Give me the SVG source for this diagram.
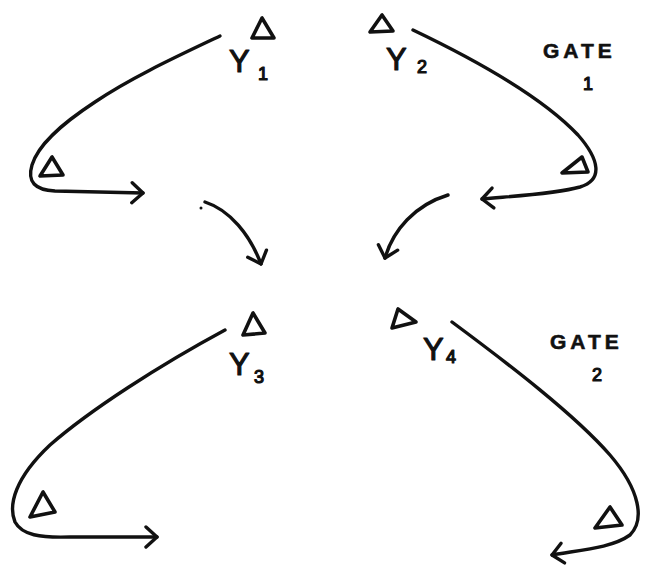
<svg xmlns="http://www.w3.org/2000/svg" width="647" height="572" viewBox="0 0 647 572">
<defs>
<style>
.ln{fill:none;stroke:#111;stroke-width:3.4;stroke-linecap:round;stroke-linejoin:round}
.tri{fill:none;stroke:#111;stroke-width:3.6;stroke-linejoin:round}
.t{font-family:"Liberation Sans",Arial,sans-serif;fill:#111;stroke:#111;stroke-width:1.2;stroke-linejoin:round}
.big{font-size:31px}
.sub{font-size:18px}
.gate{font-size:21px;font-weight:bold;letter-spacing:4px;stroke-width:0.6}
</style>
<marker id="ah" markerUnits="userSpaceOnUse" markerWidth="16" markerHeight="28" viewBox="-14 -14 16 28" refX="0" refY="0" orient="auto">
<path d="M-11,-10 L0,0 L-11,10" fill="none" stroke="#111" stroke-width="3.4" stroke-linecap="round" stroke-linejoin="round"/>
</marker>
</defs>
<rect width="647" height="572" fill="#fff"/>
<g id="y1">
<path class="tri" d="M262,18 L252,38 L274,38 Z"/>
<text class="t big" x="229" y="72">Y</text>
<text class="t sub" x="258" y="80">1</text>
</g>
<g id="y2">
<path class="tri" d="M382,15 L370,32 L393,31 Z"/>
<text class="t big" x="386" y="70">Y</text>
<text class="t sub" x="417" y="73">2</text>
</g>
<g id="gate1">
<text class="t gate" x="543" y="58">GATE</text>
<text class="t sub" x="583" y="90">1</text>
</g>
<g id="t1">
<path class="tri" d="M52,157 L40,176 L63,175 Z"/>
</g>
<g id="t2">
<path class="tri" d="M582,157 L562,173 L588,172 Z"/>
</g>
<g id="y3">
<path class="tri" d="M253,313 L243,335 L265,333 Z"/>
<text class="t big" x="229" y="375">Y</text>
<text class="t sub" x="254" y="383">3</text>
</g>
<g id="y4">
<path class="tri" d="M398,309 L392,328 L416,322 Z"/>
<text class="t big" x="423" y="360">Y</text>
<text class="t sub" x="446" y="363">4</text>
</g>
<g id="gate2">
<text class="t gate" x="550" y="349">GATE</text>
<text class="t sub" x="592" y="381">2</text>
</g>
<g id="t3">
<path class="tri" d="M43,492 L30,517 L55,512 Z"/>
</g>
<g id="t4">
<path class="tri" d="M610,507 L595,528 L622,525 Z"/>
</g>
<g id="connectors">
<path class="ln" marker-end="url(#ah)" d="M220,36 C180,55 130,78 95,102 C60,125 38,145 32,165 C27,182 35,190 55,191 L143,193"/>
<path class="ln" marker-end="url(#ah)" d="M413,30 C480,62 545,100 578,135 C600,160 603,180 580,187 C555,194 515,196 482,199"/>
<path class="ln" marker-end="url(#ah)" d="M205,202 C230,210 250,235 261,264"/>
<circle cx="201" cy="208" r="1.5" fill="#111"/>
<path class="ln" marker-end="url(#ah)" d="M448,195 C415,205 393,230 385,258"/>
<path class="ln" marker-end="url(#ah)" d="M225,330 C160,365 90,410 50,445 C15,478 8,505 15,522 C22,535 40,538 70,537 L157,537"/>
<path class="ln" marker-end="url(#ah)" d="M452,322 C510,365 575,415 610,455 C640,490 645,520 630,535 C612,548 580,550 552,555"/>
</g>
</svg>
